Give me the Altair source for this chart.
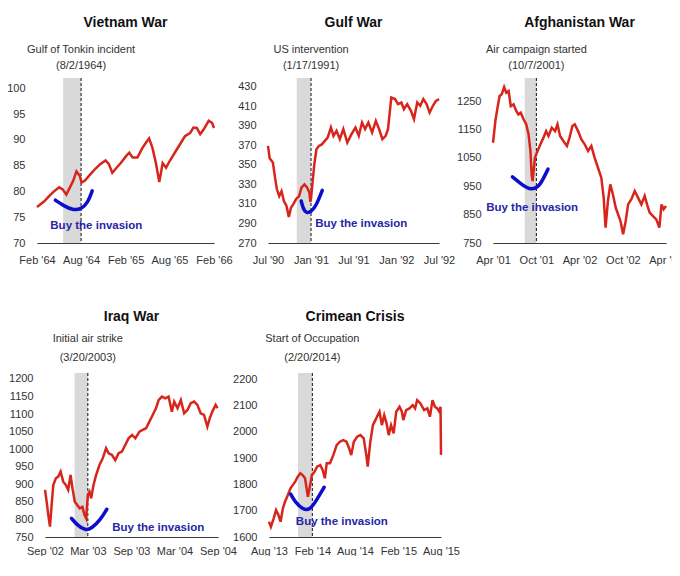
import pandas as pd
import altair as alt

FONT = "Liberation Sans"
RED = "#d8251b"
BLUE = "#0d0dcc"
BUY_BLUE = "#2626a6"
BAND_GREY = "#d9d9d9"

# Vietnam War
vn_ticks = ["1964-02-02", "1964-08-02", "1965-02-02", "1965-08-02", "1966-02-02"]
vn_dates = ["1964-02-02", "1964-03-03", "1964-03-23", "1964-04-14", "1964-05-04",
            "1964-05-18", "1964-06-02", "1964-06-16", "1964-06-30", "1964-07-14",
            "1964-07-28", "1964-08-04", "1964-08-18", "1964-09-09", "1964-09-30",
            "1964-10-20", "1964-11-11", "1964-11-25", "1964-12-09", "1964-12-23",
            "1965-01-13", "1965-02-03", "1965-02-17", "1965-03-03", "1965-03-23",
            "1965-04-12", "1965-04-26", "1965-05-10", "1965-05-24", "1965-06-07",
            "1965-06-21", "1965-07-05", "1965-07-19", "1965-08-03", "1965-08-24",
            "1965-09-14", "1965-10-05", "1965-10-26", "1965-11-09", "1965-11-23",
            "1965-12-07", "1965-12-21", "1966-01-11", "1966-01-25", "1966-02-02"]
vn_values = [77.0, 78.1, 79.1, 80.1, 80.8, 80.4, 79.4, 80.7, 82.0, 83.9,
             83.0, 81.7, 82.1, 83.3, 84.4, 85.3, 86.0, 85.3, 83.6, 84.4,
             85.5, 86.8, 87.5, 86.6, 86.6, 88.4, 89.4, 90.3, 88.4, 85.5,
             81.8, 85.5, 84.6, 85.9, 87.5, 89.1, 90.7, 91.3, 92.4, 92.3,
             91.1, 92.0, 93.7, 93.3, 92.3]
vn_smile_dates = ["1964-04-18", "1964-05-23", "1964-06-28", "1964-08-02", "1964-08-30", "1964-09-17"]
vn_smile_values = [78.3, 77.2, 76.4, 76.5, 77.8, 80.1]

# Gulf War
gw_ticks = ["1990-07-17", "1991-01-17", "1991-07-17", "1992-01-17", "1992-07-17"]
gw_dates = ["1990-07-17", "1990-07-24", "1990-08-07", "1990-08-16", "1990-08-24",
            "1990-09-03", "1990-09-13", "1990-09-23", "1990-10-04", "1990-10-14",
            "1990-10-23", "1990-11-03", "1990-11-14", "1990-11-27", "1990-12-07",
            "1990-12-20", "1990-12-31", "1991-01-10", "1991-01-14", "1991-01-17",
            "1991-01-24", "1991-01-31", "1991-02-09", "1991-02-20", "1991-03-04",
            "1991-03-17", "1991-03-29", "1991-04-12", "1991-04-23", "1991-05-06",
            "1991-05-20", "1991-06-04", "1991-06-21", "1991-07-09", "1991-07-26",
            "1991-08-09", "1991-08-23", "1991-09-05", "1991-09-19", "1991-10-05",
            "1991-10-21", "1991-11-04", "1991-11-18", "1991-12-02", "1991-12-12",
            "1991-12-26", "1992-01-11", "1992-01-24", "1992-02-07", "1992-02-18",
            "1992-03-03", "1992-03-19", "1992-04-01", "1992-04-15", "1992-04-28",
            "1992-05-11", "1992-05-25", "1992-06-07", "1992-06-21", "1992-07-04",
            "1992-07-17"]
gw_values = [369.5, 356.8, 352.4, 337, 325, 318, 323, 313, 308, 296.7,
             306, 310, 315, 318, 326.7, 330, 327, 321.6, 312, 316,
             333.6, 350.7, 366, 369.5, 371, 374.6, 378, 388.3, 379.7, 384.9,
             376.4, 386.6, 372.9, 381.5, 388.3, 379.7, 393.4, 386.6, 393.4, 383.2,
             395, 386.6, 376.4, 379.7, 386.6, 419, 417.4, 412.3, 413.9, 407.1,
             412.3, 405.4, 396.9, 413.9, 410.5, 417.4, 412.3, 403.6, 410.5, 415.6,
             417.4]
gw_smile_dates = ["1990-12-06", "1990-12-15", "1990-12-28", "1991-01-17", "1991-02-08", "1991-03-06"]
gw_smile_values = [313, 304.6, 300.5, 301.8, 308, 324]

# Afghanistan War
af_ticks = ["2001-04-07", "2001-10-07", "2002-04-07", "2002-10-07", "2003-04-07"]
af_dates = ["2001-04-07", "2001-04-17", "2001-04-26", "2001-05-05", "2001-05-14",
            "2001-05-24", "2001-06-02", "2001-06-12", "2001-06-21", "2001-07-03",
            "2001-07-14", "2001-07-23", "2001-08-02", "2001-08-14", "2001-08-25",
            "2001-09-04", "2001-09-12", "2001-09-17", "2001-09-21", "2001-10-01",
            "2001-10-12", "2001-10-24", "2001-11-06", "2001-11-17", "2001-11-27",
            "2001-12-11", "2001-12-25", "2002-01-04", "2002-01-15", "2002-01-29",
            "2002-02-13", "2002-02-24", "2002-03-08", "2002-03-18", "2002-04-01",
            "2002-04-15", "2002-04-29", "2002-05-13", "2002-05-27", "2002-06-10",
            "2002-06-24", "2002-07-08", "2002-07-18", "2002-07-26", "2002-08-05",
            "2002-08-15", "2002-08-26", "2002-09-07", "2002-09-17", "2002-09-27",
            "2002-10-08", "2002-10-19", "2002-10-29", "2002-11-12", "2002-11-26",
            "2002-12-10", "2002-12-24", "2003-01-07", "2003-01-17", "2003-01-28",
            "2003-02-11", "2003-02-25", "2003-03-10", "2003-03-19", "2003-03-28",
            "2003-04-07"]
af_values = [1103, 1179.6, 1226, 1267.6, 1273.5, 1299, 1279, 1285, 1232, 1238,
             1215, 1203, 1209, 1185.5, 1168, 1133, 1074, 992, 968, 1050,
             1074, 1097.5, 1121, 1144, 1127, 1156, 1144, 1168, 1127, 1109,
             1091.5, 1121, 1162, 1168, 1144, 1115, 1097.5, 1074, 1091.5, 1050,
             1015, 980, 909.6, 804, 898, 956.6, 921, 874, 851, 827.5,
             780.5, 827.5, 886, 904, 933, 909.6, 886, 915.5, 886, 856.7,
             845, 833, 804, 886, 868.6, 880]
af_smile_dates = ["2001-06-28", "2001-07-29", "2001-09-09", "2001-10-14", "2001-11-04", "2001-11-25"]
af_smile_values = [983, 962, 936, 945, 974, 1010]

# Iraq War
iq_ticks = ["2002-09-20", "2003-03-20", "2003-09-20", "2004-03-20", "2004-09-20"]
iq_dates = ["2002-09-20", "2002-09-27", "2002-10-04", "2002-10-11", "2002-10-18",
            "2002-10-25", "2002-11-05", "2002-11-15", "2002-11-25", "2002-12-06",
            "2002-12-17", "2002-12-27", "2003-01-06", "2003-01-14", "2003-01-24",
            "2003-02-03", "2003-02-14", "2003-02-25", "2003-03-06", "2003-03-13",
            "2003-03-20", "2003-03-27", "2003-04-03", "2003-04-13", "2003-04-24",
            "2003-05-08", "2003-05-22", "2003-06-05", "2003-06-16", "2003-06-30",
            "2003-07-14", "2003-07-28", "2003-08-11", "2003-08-25", "2003-09-08",
            "2003-09-23", "2003-10-07", "2003-10-24", "2003-11-07", "2003-11-21",
            "2003-12-05", "2003-12-19", "2004-01-02", "2004-01-13", "2004-01-27",
            "2004-02-10", "2004-02-24", "2004-03-09", "2004-03-19", "2004-04-02",
            "2004-04-16", "2004-04-30", "2004-05-14", "2004-05-28", "2004-06-11",
            "2004-06-25", "2004-07-09", "2004-07-23", "2004-08-06", "2004-08-16",
            "2004-08-27", "2004-09-10", "2004-09-18"]
iq_values = [884, 850.6, 812.7, 779.5, 841, 898, 917, 922, 936, 907.6,
             898, 884, 926.6, 888.7, 850.6, 841, 831.7, 836, 812.7, 803,
             869.7, 879, 860, 898, 926.6, 955, 974, 1002.6, 988.5, 983.6,
             969, 988.5, 993, 1012, 1031, 1040.6, 1031, 1050, 1055, 1059.7,
             1078.5, 1097.6, 1116.7, 1140, 1149.8, 1145, 1149.8, 1107, 1135.6, 1116.7,
             1140, 1102.3, 1111.8, 1131, 1135.6, 1126, 1102, 1097.6, 1064, 1088,
             1107, 1126, 1116.7]
iq_smile_dates = ["2003-01-10", "2003-02-03", "2003-03-09", "2003-04-06", "2003-05-11", "2003-06-08"]
iq_smile_values = [803, 784, 768, 775, 798, 829]

# Crimean Crisis
cr_ticks = ["2013-08-20", "2014-02-20", "2014-08-20", "2015-02-20", "2015-08-20"]
cr_dates = ["2013-08-20", "2013-08-28", "2013-09-09", "2013-09-19", "2013-09-29",
            "2013-10-08", "2013-10-18", "2013-10-27", "2013-11-08", "2013-11-19",
            "2013-11-29", "2013-12-09", "2013-12-20", "2013-12-31", "2014-01-10",
            "2014-01-20", "2014-02-01", "2014-02-08", "2014-02-18", "2014-03-01",
            "2014-03-12", "2014-03-26", "2014-04-05", "2014-04-14", "2014-04-22",
            "2014-05-06", "2014-05-20", "2014-06-03", "2014-06-17", "2014-07-01",
            "2014-07-15", "2014-07-26", "2014-08-04", "2014-08-15", "2014-08-29",
            "2014-09-12", "2014-09-26", "2014-10-07", "2014-10-13", "2014-10-24",
            "2014-11-04", "2014-11-18", "2014-12-02", "2014-12-12", "2014-12-22",
            "2015-01-01", "2015-01-10", "2015-01-20", "2015-01-31", "2015-02-11",
            "2015-02-25", "2015-03-07", "2015-03-13", "2015-03-25", "2015-04-08",
            "2015-04-22", "2015-05-02", "2015-05-11", "2015-05-25", "2015-06-09",
            "2015-06-23", "2015-07-04", "2015-07-15", "2015-07-25", "2015-08-04",
            "2015-08-13", "2015-08-18", "2015-08-20"]
cr_values = [1658, 1639, 1671, 1702.5, 1683.5, 1658, 1709, 1734, 1759.5, 1785,
             1797, 1810, 1829, 1842, 1835, 1823, 1753, 1785, 1835, 1848,
             1867, 1873, 1854, 1823, 1880, 1880, 1911, 1949, 1962, 1968,
             1962, 1937, 1911, 1962, 1981, 1987, 1975, 1911, 1867, 1962,
             2025, 2050.5, 2076, 2025, 2063, 2031.6, 1987, 2025, 1994, 2076,
             2095, 2076, 2044, 2082, 2088.6, 2101, 2088.6, 2120, 2107.6, 2082,
             2088.6, 2057, 2120, 2095, 2088.6, 2076, 2095, 1912]
cr_smile_dates = ["2013-11-20", "2013-12-08", "2014-01-12", "2014-02-10", "2014-03-10", "2014-04-11"]
cr_smile_values = [1763, 1734, 1703, 1703, 1740, 1789]


def ms(day):
    return int(pd.Timestamp(day).value // 1_000_000)


def panel(title, note1, note2, event, band, ticks, dates, values,
          smile_dates, smile_values, buy_date, buy_value, ydomain, yticks,
          width, height, ypad=12, xpad=11, lead=0, head_dy=-55, note_dy=(-28, -12)):
    # lead: empty pixels kept left of the x range (lets a panel sit further right)
    xscale = alt.Scale(type="utc", domain=[ms(ticks[0]), ms(ticks[-1])],
                       range=[lead, lead + width])
    yscale = alt.Scale(domain=ydomain, nice=False, zero=False)
    xaxis = alt.Axis(values=[ms(t) for t in ticks], format="%b '%y", ticks=False,
                     domainColor="#3a3a3a", domainWidth=1.2, labelFlush=False,
                     labelOverlap=False, labelPadding=xpad, grid=False,
                     labelFont=FONT, labelFontSize=11, labelColor="#333")
    yaxis = alt.Axis(values=yticks, format="d", ticks=False, domain=False, grid=False,
                     labelPadding=ypad, labelFont=FONT, labelFontSize=11,
                     labelColor="#333")

    def X(field):
        return alt.X(field, scale=xscale, axis=xaxis, title=None)

    def Y(field):
        return alt.Y(field, scale=yscale, axis=yaxis, title=None)

    info = pd.DataFrame({"event": [event], "band": [band], "note1": [note1],
                         "note2": [note2], "title": [title],
                         "buy_date": [buy_date], "buy_value": [buy_value]})
    line = pd.DataFrame({"date": dates, "value": values})
    smile = pd.DataFrame({"date": smile_dates, "value": smile_values})

    base = alt.Chart(info)
    shade = base.mark_rect(color=BAND_GREY).encode(x=X("band:T"), x2="event:T")
    rule = base.mark_rule(color="#111", strokeDash=[3, 2], strokeWidth=1).encode(x=X("event:T"))
    series = alt.Chart(line).mark_line(color=RED, strokeWidth=2.5, strokeJoin="miter").encode(
        x=X("date:T"), y=Y("value:Q"))
    curve = alt.Chart(smile).mark_line(color=BLUE, strokeWidth=3.5, interpolate="basis",
                                       strokeCap="round").encode(x=X("date:T"), y=Y("value:Q"))
    buy = base.mark_text(font=FONT, fontSize=11.5, fontWeight="bold", color=BUY_BLUE,
                         align="left", baseline="middle").encode(
        x=X("buy_date:T"), y=Y("buy_value:Q"), text=alt.value("Buy the invasion"))
    note_a = base.mark_text(font=FONT, fontSize=11, color="#333", baseline="middle").encode(
        x=X("event:T"), y=alt.value(note_dy[0]), text="note1:N")
    note_b = base.mark_text(font=FONT, fontSize=11, color="#333", baseline="middle").encode(
        x=X("event:T"), y=alt.value(note_dy[1]), text="note2:N")
    head = base.mark_text(font=FONT, fontSize=14, fontWeight="bold", color="#111",
                          baseline="middle").encode(
        x=alt.value(lead + width / 2), y=alt.value(head_dy), text="title:N")
    return alt.layer(shade, rule, series, curve, buy, note_a, note_b, head).properties(
        width=width + lead, height=height)


p1 = panel("Vietnam War", "Gulf of Tonkin incident", "(8/2/1964)", "1964-08-02", "1964-05-20",
           vn_ticks, vn_dates, vn_values, vn_smile_dates, vn_smile_values,
           "1964-03-28", 73.3, [70, 102], [70, 75, 80, 85, 90, 95, 100], 177, 165)
p2 = panel("Gulf War", "US intervention", "(1/17/1991)", "1991-01-17", "1990-11-17",
           gw_ticks, gw_dates, gw_values, gw_smile_dates, gw_smile_values,
           "1991-02-04", 289.2, [270, 439], [270, 290, 310, 330, 350, 370, 390, 410, 430], 171, 165)
p3 = panel("Afghanistan War", "Air campaign started", "(10/7/2001)", "2001-10-07", "2001-08-19",
           af_ticks, af_dates, af_values, af_smile_dates, af_smile_values,
           "2001-03-09", 873, [750, 1331], [750, 850, 950, 1050, 1150, 1250], 173, 165)
p4 = panel("Iraq War", "Initial air strike", "(3/20/2003)", "2003-03-20", "2003-01-23",
           iq_ticks, iq_dates, iq_values, iq_smile_dates, iq_smile_values,
           "2003-07-01", 776.5, [750, 1217],
           [750, 800, 850, 900, 950, 1000, 1050, 1100, 1150, 1200], 173, 164,
           ypad=4, xpad=8, lead=8, head_dy=-56, note_dy=(-34, -15))
p5 = panel("Crimean Crisis", "Start of Occupation", "(2/20/2014)", "2014-02-20", "2013-12-21",
           cr_ticks, cr_dates, cr_values, cr_smile_dates, cr_smile_values,
           "2013-12-12", 1658, [1600, 2223], [1600, 1700, 1800, 1900, 2000, 2100, 2200], 172, 164,
           xpad=8, head_dy=-56, note_dy=(-34, -15))

top = alt.hconcat(p1, p2, p3, spacing=54, bounds="flush")
bottom = alt.hconcat(p4, p5, spacing=51, bounds="flush")

chart = alt.concat(top, bottom, columns=1, align="none", spacing=45).properties(
    padding={"left": -2, "top": 8, "right": -12, "bottom": 0}
).configure_view(stroke=None)

chart.save("out.html", embed_options={"renderer": "svg", "actions": False})
